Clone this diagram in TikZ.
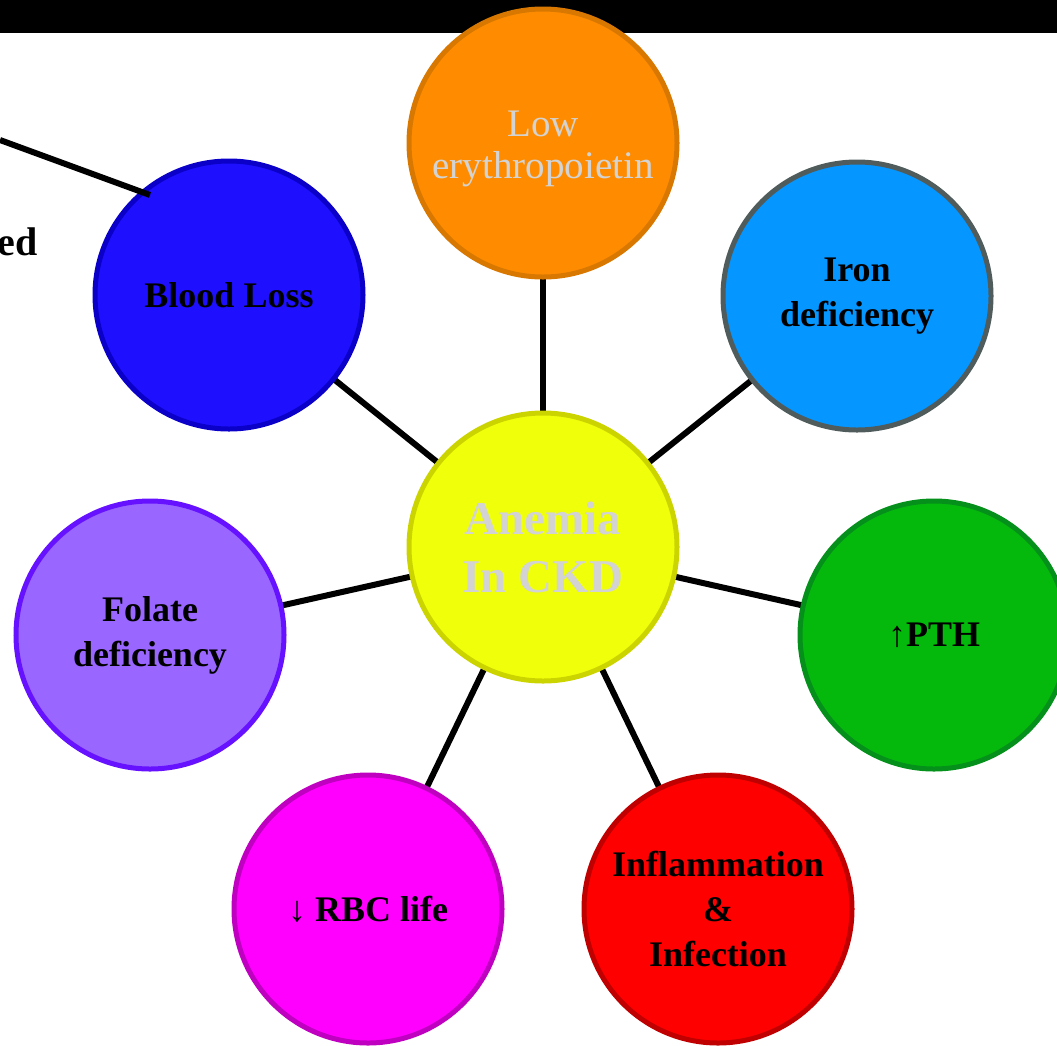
\documentclass[tikz,border=0pt]{standalone}
\usepackage{fontspec}
\setmainfont{Liberation Serif}
\usetikzlibrary{backgrounds}
\definecolor{corange}{RGB}{255,140,0}
\definecolor{corangeb}{RGB}{217,120,0}
\definecolor{cyel}{RGB}{240,255,10}
\definecolor{cyelb}{RGB}{204,212,0}
\definecolor{cblue}{RGB}{5,150,255}
\definecolor{cblueb}{RGB}{80,92,92}
\definecolor{cgreen}{RGB}{4,185,12}
\definecolor{cgreenb}{RGB}{4,144,26}
\definecolor{cred}{RGB}{255,0,0}
\definecolor{credb}{RGB}{192,0,0}
\definecolor{cmag}{RGB}{255,0,255}
\definecolor{cmagb}{RGB}{192,0,192}
\definecolor{cviol}{RGB}{153,102,255}
\definecolor{cviolb}{RGB}{102,17,255}
\definecolor{cdblue}{RGB}{30,16,255}
\definecolor{cdblueb}{RGB}{10,0,200}
\definecolor{tgray}{RGB}{211,211,211}
\tikzset{
  bubble/.style={circle, minimum size=268pt, inner sep=0pt, line width=5pt, align=center,
    font=\fontsize{36}{45}\selectfont\bfseries},
  link/.style={line width=6pt, draw=black},
}
\begin{document}
\begin{tikzpicture}[x=1pt,y=-1pt]
\useasboundingbox (0,0) rectangle (1057,1045);
\clip (0,0) rectangle (1057,1045);
\fill[black] (0,0) rectangle (1057,33);

\node[bubble, fill=cyel, draw=cyelb, text=tgray, font=\fontsize{47}{58}\selectfont\bfseries] (ckd) at (543,547) {Anemia\\In CKD};
\node[bubble, fill=corange, draw=corangeb] (epo) at (543,143) {};
\node[align=center, inner sep=0pt, text=tgray, font=\fontsize{39}{42}\selectfont] (epotxt) at (543,149) {Low\\erythropoietin};
\node[bubble, fill=cblue, draw=cblueb] (iron) at (857,296) {Iron\\deficiency};
\node[bubble, fill=cgreen, draw=cgreenb] (pth) at (934,635) {↑PTH};
\node[bubble, fill=cred, draw=credb] (infl) at (718,909) {Inflammation\\\&\\Infection};
\node[bubble, fill=cmag, draw=cmagb] (rbc) at (368,909) {↓ RBC life};
\node[bubble, fill=cviol, draw=cviolb] (fol) at (150,635) {Folate\\deficiency};
\node[bubble, fill=cdblue, draw=cdblueb] (blood) at (229,295) {Blood Loss};

\begin{scope}[on background layer]
  \foreach \n in {epo,iron,pth,infl,rbc,fol,blood}
    \draw[link] (ckd.center) -- (\n.center);
\end{scope}

\coordinate (tlstart) at (0,140);
\coordinate (tlend) at (150,195);
\draw[link] (tlstart) -- (tlend);
\node[anchor=base east, inner sep=0pt, font=\fontsize{40}{48}\selectfont\bfseries] (edtxt) at (38,255) {ed};
\end{tikzpicture}
\end{document}
